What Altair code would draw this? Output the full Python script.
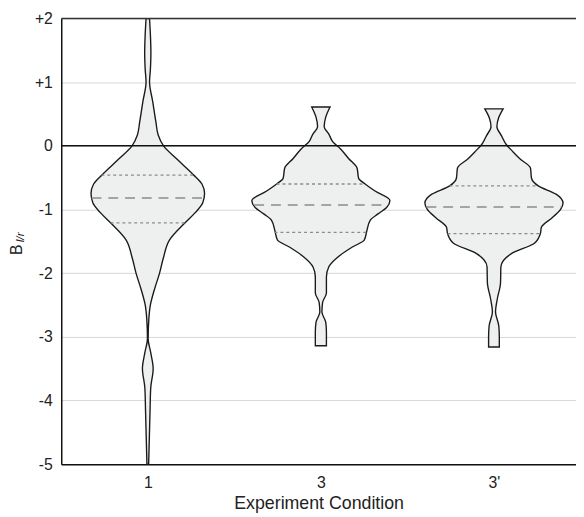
import altair as alt
import pandas as pd

# Conditions (tick labels) and their positions on the category axis
conditions = ["1", "3", "3'"]
positions = [1, 2, 3]

# Violin outlines: value levels and half-widths (in category units)
v1_y = [2.0, 1.75, 1.45, 1.2, 1.0, 0.7, 0.37, 0.17, 0.0, -0.2, -0.45, -0.6, -0.75, -0.9,
        -1.05, -1.22, -1.48, -1.75, -2.0, -2.26, -2.5, -2.72, -3.03, -3.25, -3.5, -3.8,
        -4.16, -4.58, -5.0]
v1_w = [0.010, 0.015, 0.018, 0.015, 0.010, 0.028, 0.047, 0.060, 0.091, 0.165, 0.262,
        0.313, 0.328, 0.317, 0.274, 0.211, 0.125, 0.091, 0.068, 0.038, 0.015, 0.006,
        0.002, 0.017, 0.031, 0.017, 0.013, 0.009, 0.005]

v3_y = [0.61, 0.45, 0.30, 0.18, 0.07, -0.05, -0.2, -0.35, -0.51, -0.6, -0.71, -0.86,
        -0.97, -1.07, -1.17, -1.33, -1.48, -1.59, -1.75, -1.90, -2.06, -2.31, -2.46,
        -2.61, -2.77, -2.92, -3.14]
v3_w = [0.053, 0.028, 0.019, 0.047, 0.067, 0.114, 0.160, 0.209, 0.218, 0.256, 0.313,
        0.399, 0.380, 0.330, 0.285, 0.266, 0.251, 0.182, 0.097, 0.046, 0.032, 0.032,
        0.010, 0.006, 0.028, 0.032, 0.032]

v3p_y = [0.58, 0.44, 0.30, 0.16, 0.02, -0.08, -0.20, -0.35, -0.51, -0.63, -0.76, -0.90,
         -1.0, -1.13, -1.28, -1.38, -1.53, -1.69, -1.90, -2.15, -2.41, -2.61, -2.83,
         -3.0, -3.16]
v3p_w = [0.053, 0.027, 0.017, 0.043, 0.071, 0.105, 0.148, 0.211, 0.217, 0.256, 0.359,
         0.399, 0.385, 0.336, 0.274, 0.268, 0.234, 0.103, 0.040, 0.038, 0.019, 0.009,
         0.028, 0.031, 0.031]

# Quartiles: (q1, median, q3) and the violin half-width at each
q_vals = [[-0.46, -0.82, -1.21], [-0.60, -0.93, -1.36], [-0.63, -0.96, -1.38]]
q_w = [[0.268, 0.325, 0.215], [0.256, 0.385, 0.268], [0.256, 0.390, 0.268]]

rows = []
for cond, pos, ys, ws in zip(conditions, positions, [v1_y, v3_y, v3p_y], [v1_w, v3_w, v3p_w]):
    for yv, wv in sorted(zip(ys, ws)):
        rows.append({"cond": cond, "y": yv, "lo": pos - wv, "hi": pos + wv})
violin_df = pd.DataFrame(rows)

qrows = []
for cond, pos, qs, ws in zip(conditions, positions, q_vals, q_w):
    for k, (qv, wv) in enumerate(zip(qs, ws)):
        qrows.append({"cond": cond, "kind": "median" if k == 1 else "quartile",
                      "y": qv, "lo": pos - wv, "hi": pos + wv})
q_df = pd.DataFrame(qrows)

label_expr = " : ".join(f"datum.value == {p} ? \"{c}\"" for p, c in zip(positions, conditions)) + " : ''"

FONT = "Liberation Sans"

x_scale = alt.Scale(domain=[0.5, 3.474], nice=False, zero=False)
y_scale = alt.Scale(domain=[-5, 2], nice=False, zero=False)

violins = alt.Chart(violin_df).mark_area(
    orient="horizontal", interpolate="monotone", fill="#eef0f0",
    stroke="#1a1a1a", strokeWidth=1.4, clip=True
).encode(
    y=alt.Y("y:Q", scale=y_scale,
            axis=alt.Axis(values=list(range(-5, 3)),
                          labelExpr="datum.value > 0 ? '+' + datum.value : '' + datum.value",
                          title=None, grid=True, gridColor="#d6d6d6", ticks=False,
                          labelPadding=9, labelFontSize=16, labelColor="#222", labelFont=FONT,
                          domainColor="#111", domainWidth=1.5)),
    x=alt.X("lo:Q", scale=x_scale,
            axis=alt.Axis(values=positions, labelExpr=label_expr, title="Experiment Condition",
                          grid=False, ticks=False, labelPadding=11, labelFontSize=16,
                          titleFontSize=18, titleFontWeight="normal", titleY=45,
                          titleBaseline="alphabetic", domainColor="#111", domainWidth=1.5,
                          labelColor="#222", titleColor="#222", labelFont=FONT, titleFont=FONT)),
    x2="hi:Q",
    detail="cond:N",
)

quart = alt.Chart(q_df[q_df["kind"] == "quartile"]).mark_rule(
    color="#8a8a8a", strokeWidth=1.4, strokeDash=[3, 3]
).encode(x="lo:Q", x2="hi:Q", y="y:Q")

median = alt.Chart(q_df[q_df["kind"] == "median"]).mark_rule(
    color="#8a8a8a", strokeWidth=1.5, strokeDash=[10, 7]
).encode(x="lo:Q", x2="hi:Q", y="y:Q")

ref_lines = alt.Chart(pd.DataFrame({"y": [0]})).mark_rule(
    color="#111", strokeWidth=1.6
).encode(y="y:Q")

top_line = alt.Chart(pd.DataFrame({"y": [2]})).mark_rule(
    color="#333", strokeWidth=1.5
).encode(y="y:Q")

title_b = alt.Chart(pd.DataFrame({"t": ["B"]})).mark_text(
    angle=270, fontSize=16, font=FONT, color="#222", align="center", baseline="middle"
).encode(x=alt.value(-45), y=alt.value(234.5), text="t:N")

title_sub = alt.Chart(pd.DataFrame({"t": ["l/r"]})).mark_text(
    angle=270, fontSize=12, font=FONT, fontStyle="italic", color="#222",
    align="center", baseline="middle"
).encode(x=alt.value(-41.5), y=alt.value(222), text="t:N")

chart = alt.layer(violins, quart, median, ref_lines, top_line, title_b, title_sub).properties(
    width=522, height=452,
    autosize=alt.AutoSizeParams(type="none"),
    padding={"left": 54, "top": 7, "right": 0, "bottom": 50},
).configure_view(stroke=None)

chart.save("out.html", embed_options={"renderer": "svg", "actions": False})
